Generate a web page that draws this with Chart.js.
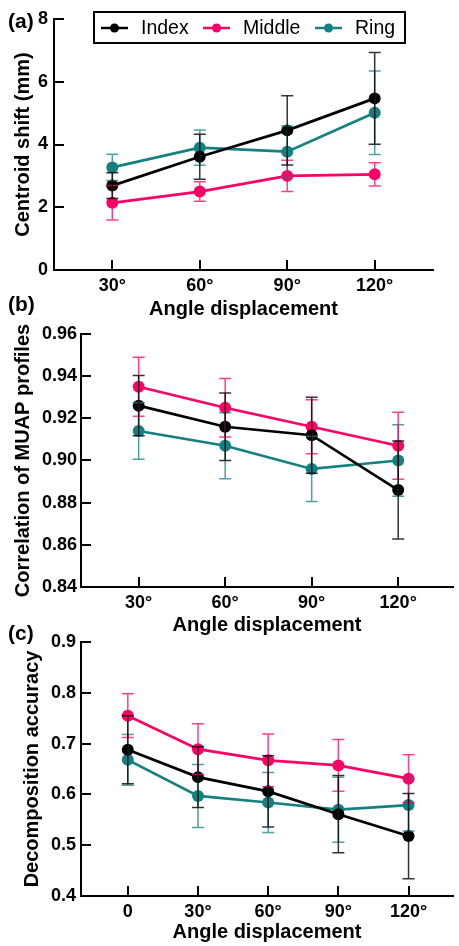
<!DOCTYPE html>
<html>
<head>
<meta charset="utf-8">
<script src="https://cdn.jsdelivr.net/npm/chart.js@4"></script>
<style>
  body { margin: 0; background: #fff; }
  #wrap { position: relative; width: 459px; height: 946px; overflow: hidden; }
  canvas { position: absolute; left: 0; }
  .tag { position: absolute; left: 8px; font: bold 21px "Liberation Sans", Arial, sans-serif; line-height: 1; color: #000; }
</style>
</head>
<body>
<div id="wrap">
  <canvas id="chartA" width="459" height="321" style="top:0px"></canvas>
  <canvas id="chartB" width="459" height="320" style="top:318px"></canvas>
  <canvas id="chartC" width="459" height="326" style="top:620px"></canvas>
  <div class="tag" style="top:10px">(a)</div>
  <div class="tag" style="top:293px">(b)</div>
  <div class="tag" style="top:622px">(c)</div>
</div>
<script>
const fingers = ['Index', 'Middle', 'Ring'];
const lineColors = ['#000000', '#ff0066', '#148080'];
const barColors = ['rgba(0,0,0,0.8)', 'rgba(255,0,102,0.75)', 'rgba(20,128,128,0.75)'];

const anglesAB = [30, 60, 90, 120];
const anglesC = [0, 30, 60, 90, 120];

// (a) centroid shift, mm (mean and SD)
const shiftIndex = [2.69, 3.61, 4.45, 5.47];
const shiftIndexSd = [0.41, 0.72, 1.10, 1.46];
const shiftMiddle = [2.14, 2.50, 3.00, 3.05];
const shiftMiddleSd = [0.55, 0.31, 0.50, 0.37];
const shiftRing = [3.27, 3.90, 3.77, 5.01];
const shiftRingSd = [0.42, 0.56, 0.82, 1.33];

// (b) correlation of MUAP profiles
const corrIndex = [0.926, 0.916, 0.912, 0.886];
const corrIndexSd = [0.0143, 0.016, 0.018, 0.0232];
const corrMiddle = [0.935, 0.925, 0.916, 0.907];
const corrMiddleSd = [0.014, 0.0139, 0.0128, 0.0159];
const corrRing = [0.914, 0.907, 0.896, 0.900];
const corrRingSd = [0.0134, 0.0156, 0.0155, 0.017];

// (c) decomposition accuracy
const accIndex = [0.688, 0.634, 0.606, 0.561, 0.518];
const accIndexSd = [0.067, 0.060, 0.070, 0.076, 0.084];
const accMiddle = [0.755, 0.689, 0.667, 0.657, 0.631];
const accMiddleSd = [0.043, 0.050, 0.052, 0.051, 0.047];
const accRing = [0.668, 0.597, 0.584, 0.570, 0.579];
const accRingSd = [0.050, 0.062, 0.059, 0.064, 0.051];

Chart.defaults.font.family = '"Liberation Sans", Arial, sans-serif';
Chart.defaults.color = '#000';

// error bars, drawn from the scales
const errorBars = {
  id: 'errorBars',
  afterDatasetsDraw(chart) {
    const { ctx, scales: { x, y } } = chart;
    ctx.save();
    ctx.lineWidth = 1.5;
    for (let i = chart.data.datasets.length - 1; i >= 0; i--) {
      const ds = chart.data.datasets[i];
      ctx.strokeStyle = ds.errorColor;
      ds.data.forEach((p, j) => {
        const px = x.getPixelForValue(p.x);
        const top = y.getPixelForValue(p.y + ds.errors[j]);
        const bot = y.getPixelForValue(p.y - ds.errors[j]);
        ctx.beginPath();
        ctx.moveTo(px, top); ctx.lineTo(px, bot);
        ctx.moveTo(px - 6, top); ctx.lineTo(px + 6, top);
        ctx.moveTo(px - 6, bot); ctx.lineTo(px + 6, bot);
        ctx.stroke();
      });
    }
    ctx.restore();
  }
};

// ticks pointing inside the plot
const innerTicks = {
  id: 'innerTicks',
  afterDraw(chart) {
    const { ctx, chartArea, scales: { x, y } } = chart;
    ctx.save();
    ctx.strokeStyle = '#000';
    ctx.lineWidth = 2;
    ctx.beginPath();
    y.ticks.forEach(t => {
      const py = Math.round(y.getPixelForValue(t.value));
      ctx.moveTo(chartArea.left, py); ctx.lineTo(chartArea.left + 10, py);
    });
    x.ticks.forEach(t => {
      const px = Math.round(x.getPixelForValue(t.value));
      ctx.moveTo(px, chartArea.bottom); ctx.lineTo(px, chartArea.bottom - 10);
    });
    ctx.stroke();
    ctx.restore();
  }
};

// boxed legend inside panel (a)
const legendBox = {
  id: 'legendBox',
  afterDraw(chart) {
    const ctx = chart.ctx;
    const starts = [101, 203, 315];
    const cy = 28;
    ctx.save();
    ctx.strokeStyle = '#000';
    ctx.lineWidth = 2;
    ctx.strokeRect(94, 12, 311, 31);
    ctx.font = '19.5px "Liberation Sans", Arial, sans-serif';
    ctx.textBaseline = 'middle';
    chart.data.datasets.forEach((ds, i) => {
      const s = starts[i];
      ctx.strokeStyle = ds.borderColor;
      ctx.lineWidth = 2.5;
      ctx.beginPath();
      ctx.moveTo(s, cy); ctx.lineTo(s + 27, cy);
      ctx.stroke();
      ctx.fillStyle = ds.borderColor;
      ctx.beginPath();
      ctx.arc(s + 13.5, cy, 4.5, 0, Math.PI * 2);
      ctx.fill();
      ctx.fillStyle = '#000';
      ctx.fillText(ds.label, s + 40, cy + 1);
    });
    ctx.restore();
  }
};

function makeChart(id, angles, means, sds, cfg) {
  const datasets = means.map((m, i) => ({
    label: fingers[i],
    data: angles.map((a, j) => ({ x: a, y: m[j] })),
    errors: sds[i],
    errorColor: barColors[i],
    borderColor: lineColors[i],
    backgroundColor: lineColors[i],
    pointBackgroundColor: lineColors[i],
    borderWidth: 2.7,
    pointRadius: 6,
    pointBorderWidth: 0,
    pointHoverRadius: 6
  }));
  const plugins = [errorBars, innerTicks];
  if (cfg.legend) plugins.push(legendBox);
  return new Chart(document.getElementById(id), {
    type: 'line',
    data: { datasets },
    plugins,
    options: {
      responsive: false,
      animation: false,
      layout: { padding: { top: cfg.padTop, right: cfg.padRight, left: 0, bottom: 0 } },
      plugins: { legend: { display: false }, tooltip: { enabled: false } },
      scales: {
        x: {
          type: 'linear',
          min: cfg.xMin,
          max: cfg.xMax,
          afterBuildTicks: s => { s.ticks = angles.map(v => ({ value: v })); },
          afterFit: s => { s.height = cfg.xHeight; },
          ticks: {
            callback: v => v === 0 ? '0' : v + '°',
            font: { size: 18, weight: 'bold' },
            color: '#000',
            padding: 5,
            maxRotation: 0
          },
          grid: { display: false, drawTicks: false },
          border: { display: true, color: '#000', width: 2 },
          title: {
            display: true,
            text: 'Angle displacement',
            font: { size: 20, weight: 'bold' },
            color: '#000',
            padding: { top: 0, bottom: cfg.xTitlePad }
          }
        },
        y: {
          min: cfg.yMin,
          max: cfg.yMax,
          afterFit: s => { s.width = cfg.yWidth; },
          ticks: {
            stepSize: cfg.yStep,
            callback: v => v.toFixed(cfg.yDigits),
            font: { size: 18, weight: 'bold' },
            color: '#000',
            padding: cfg.yTickPad
          },
          grid: { display: false, drawTicks: false },
          border: { display: true, color: '#000', width: 2 },
          title: {
            display: true,
            text: cfg.yTitle,
            font: { size: 20, weight: 'bold' },
            color: '#000',
            padding: { top: cfg.yTitlePad, bottom: 0 }
          }
        }
      }
    }
  });
}

makeChart('chartA', anglesAB,
  [shiftIndex, shiftMiddle, shiftRing],
  [shiftIndexSd, shiftMiddleSd, shiftRingSd],
  { legend: true, padTop: 19, padRight: 26, xMin: 10, xMax: 140, xHeight: 51, xTitlePad: 0,
    yMin: 0, yMax: 8, yStep: 2, yDigits: 0, yWidth: 54, yTickPad: 6, yTitle: 'Centroid shift (mm)', yTitlePad: 11 });

makeChart('chartB', anglesAB,
  [corrIndex, corrMiddle, corrRing],
  [corrIndexSd, corrMiddleSd, corrRingSd],
  { legend: false, padTop: 16, padRight: 1, xMin: 10, xMax: 139, xHeight: 51, xTitlePad: 1,
    yMin: 0.84, yMax: 0.96, yStep: 0.02, yDigits: 2, yWidth: 81, yTickPad: 4, yTitle: 'Correlation of MUAP profiles', yTitlePad: 11 });

makeChart('chartC', anglesC,
  [accIndex, accMiddle, accRing],
  [accIndexSd, accMiddleSd, accRingSd],
  { legend: false, padTop: 22, padRight: 1, xMin: -20, xMax: 139, xHeight: 50, xTitlePad: 2,
    yMin: 0.4, yMax: 0.9, yStep: 0.1, yDigits: 1, yWidth: 81, yTickPad: 5, yTitle: 'Decomposition accuracy', yTitlePad: 20 });
</script>
</body>
</html>
